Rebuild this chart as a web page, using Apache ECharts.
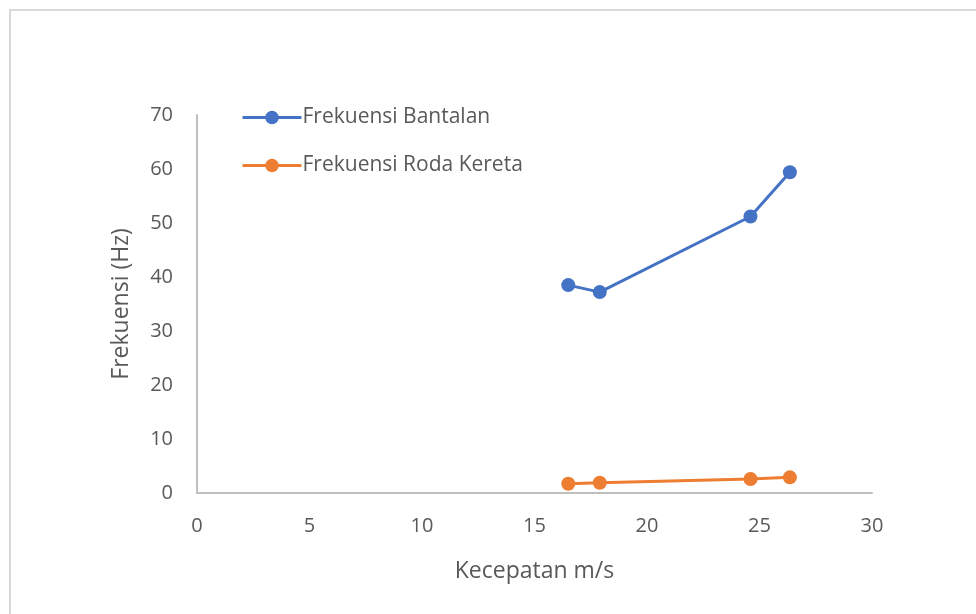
<!DOCTYPE html>
<html>
<head>
<meta charset="utf-8">
<script src="https://cdn.jsdelivr.net/npm/echarts@6/dist/echarts.min.js"></script>
<style>
  html, body { margin: 0; padding: 0; background: #fff; }
  #chart { width: 976px; height: 614px; }
</style>
</head>
<body>
<div id="chart"></div>
<script>
// Speed (m/s) and measured frequencies (Hz)
const kecepatan = [16.5, 17.9, 24.6, 26.35];
const frekuensiBantalan = [38.5, 37.2, 51.2, 59.4];
const frekuensiRoda = [1.7, 1.9, 2.6, 2.9];
const seriesNames = ['Frekuensi Bantalan', 'Frekuensi Roda Kereta'];

const FONT = 'Open Sans';
const TEXT = '#595959';

const chart = echarts.init(document.getElementById('chart'));

function pairs(xs, ys) {
  return xs.map((x, i) => [x, ys[i]]);
}

chart.setOption({
  backgroundColor: '#ffffff',
  animation: false,
  graphic: [{
    type: 'rect',
    shape: { x: 10, y: 10, width: 1000, height: 700 },
    style: { fill: 'none', stroke: '#d9d9d9', lineWidth: 2 },
    silent: true
  }],
  grid: { left: 197, right: 104, top: 115, bottom: 121 },
  legend: {
    orient: 'vertical',
    left: 236,
    top: 102,
    itemWidth: 59,
    itemHeight: 17,
    itemGap: 27,
    data: seriesNames,
    lineStyle: { width: 3 },
    textStyle: { color: TEXT, fontFamily: FONT, fontSize: 21, padding: [0, 0, 0, -4] }
  },
  xAxis: {
    type: 'value',
    min: 0, max: 30, interval: 5,
    name: 'Kecepatan m/s',
    nameLocation: 'middle',
    nameGap: 67,
    nameTextStyle: { color: TEXT, fontFamily: FONT, fontSize: 23 },
    axisLine: { show: true, lineStyle: { color: '#bfbfbf', width: 2 } },
    axisTick: { show: false },
    splitLine: { show: false },
    axisLabel: { color: TEXT, fontFamily: FONT, fontSize: 20, margin: 23 }
  },
  yAxis: {
    type: 'value',
    min: 0, max: 70, interval: 10,
    name: 'Frekuensi (Hz)',
    nameLocation: 'middle',
    nameGap: 64,
    nameTextStyle: { color: TEXT, fontFamily: FONT, fontSize: 23 },
    axisLine: { show: true, lineStyle: { color: '#bfbfbf', width: 2 } },
    axisTick: { show: false },
    splitLine: { show: false },
    axisLabel: { color: TEXT, fontFamily: FONT, fontSize: 20, margin: 24 }
  },
  series: [
    {
      name: seriesNames[0],
      type: 'line',
      data: pairs(kecepatan, frekuensiBantalan),
      symbol: 'circle',
      symbolSize: 14,
      itemStyle: { color: '#4472c4' },
      lineStyle: { color: '#4472c4', width: 3 }
    },
    {
      name: seriesNames[1],
      type: 'line',
      data: pairs(kecepatan, frekuensiRoda),
      symbol: 'circle',
      symbolSize: 14,
      itemStyle: { color: '#ed7d31' },
      lineStyle: { color: '#ed7d31', width: 3 }
    }
  ]
});
</script>
</body>
</html>
